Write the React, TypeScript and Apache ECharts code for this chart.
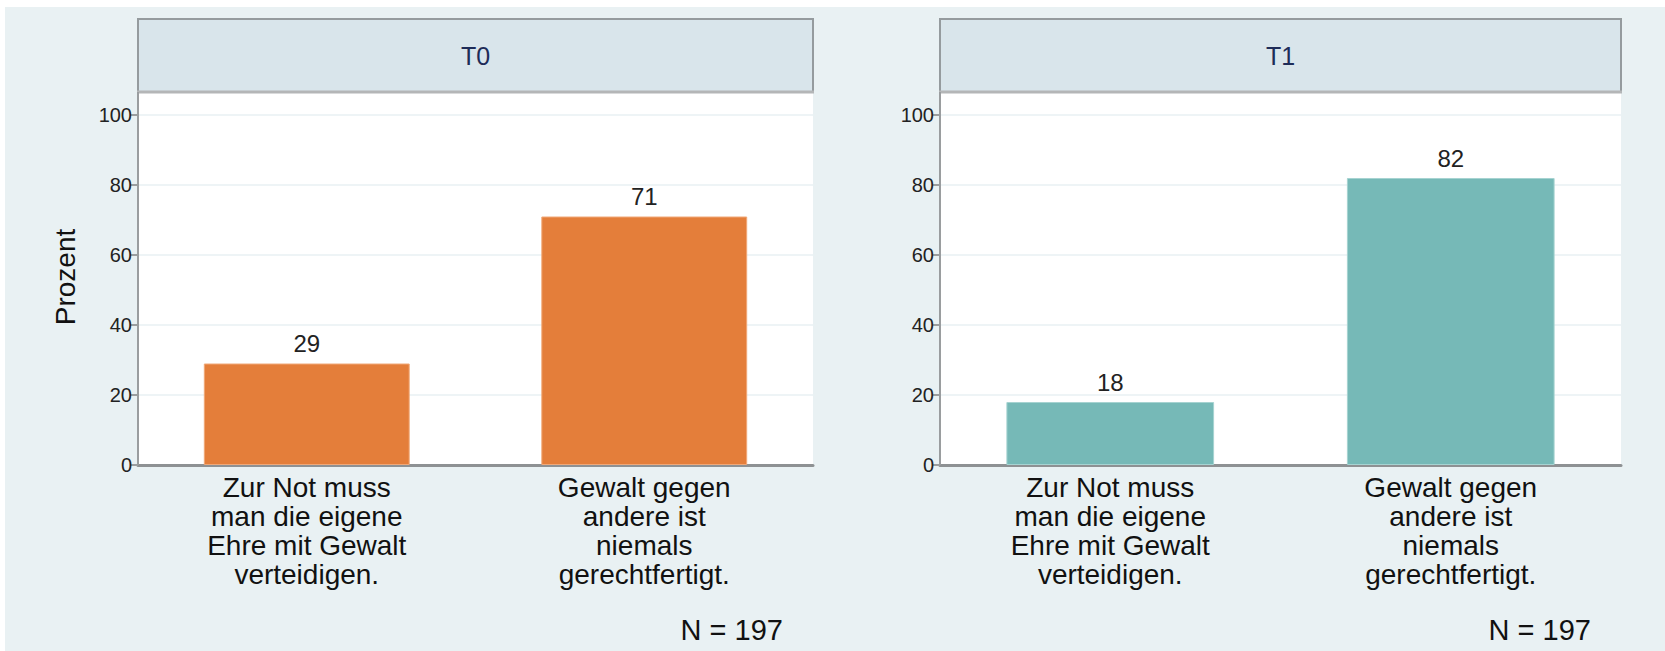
import React, { useEffect, useRef } from "react";
import * as echarts from "echarts";

const categories = [
  "Zur Not muss\nman die eigene\nEhre mit Gewalt\nverteidigen.",
  "Gewalt gegen\nandere ist\nniemals\ngerechtfertigt.",
];
const panelTitles = ["T0", "T1"];
const valuesT0 = [29, 71];
const valuesT1 = [18, 82];
const yAxisTitle = "Prozent";
const yMin = 0;
const yMax = 100;
const yStep = 20;
const nNotes = ["N = 197", "N = 197"];
const barColors = ["#e47e3a", "#76b9b7"];

const W = 1665;
const H = 651;
const PLOT_TOP = 115;
const PLOT_H = 350;
const HEAD_TOP = 19;
const HEAD_BOTTOM = 92;
const panels = [
  { left: 138, width: 675 },
  { left: 940, width: 681 },
];

export default function App() {
  const ref = useRef<HTMLDivElement>(null);
  useEffect(() => {
    document.body.style.margin = "0";
    if (!ref.current) return;
    const chart = echarts.init(ref.current, null, { renderer: "svg" });
    const seriesData = [valuesT0, valuesT1];
    const font = "'Liberation Sans', Arial, Helvetica, sans-serif";
    const bottom = PLOT_TOP + PLOT_H;

    const graphic: any[] = [
      {
        type: "rect",
        z: -20,
        shape: { x: 5, y: 7, width: W - 5, height: H - 7 },
        style: { fill: "#e9f1f3" },
        silent: true,
      },
    ];
    panels.forEach((p, i) => {
      graphic.push(
        {
          type: "rect",
          z: -10,
          shape: { x: p.left, y: HEAD_BOTTOM, width: p.width, height: bottom - HEAD_BOTTOM },
          style: { fill: "#ffffff" },
          silent: true,
        },
        {
          type: "rect",
          z: 5,
          shape: { x: p.left, y: HEAD_TOP, width: p.width, height: HEAD_BOTTOM - HEAD_TOP },
          style: { fill: "#d9e5eb", stroke: "#959b9e", lineWidth: 2 },
          silent: true,
        },
        {
          type: "line",
          z: 6,
          shape: { x1: p.left - 1, y1: HEAD_BOTTOM, x2: p.left + p.width + 1, y2: HEAD_BOTTOM },
          style: { stroke: "#b4b6b7", lineWidth: 3 },
          silent: true,
        },
        {
          type: "line",
          z: 6,
          shape: { x1: p.left, y1: HEAD_BOTTOM, x2: p.left, y2: bottom },
          style: { stroke: "#9a9d9f", lineWidth: 2 },
          silent: true,
        },
        {
          type: "text",
          z: 10,
          x: p.left + p.width / 2,
          y: (HEAD_TOP + HEAD_BOTTOM) / 2,
          style: {
            text: panelTitles[i],
            fill: "#1e2c58",
            font: `25px ${font}`,
            textAlign: "center",
            textVerticalAlign: "middle",
          },
        },
        {
          type: "text",
          z: 10,
          x: p.left + p.width - 30,
          y: 630,
          style: {
            text: nNotes[i],
            fill: "#111111",
            font: `29px ${font}`,
            textAlign: "right",
            textVerticalAlign: "middle",
          },
        }
      );
    });
    graphic.push({
      type: "text",
      z: 10,
      x: 65,
      y: 277,
      rotation: Math.PI / 2,
      style: {
        text: yAxisTitle,
        fill: "#111111",
        font: `28px ${font}`,
        textAlign: "center",
        textVerticalAlign: "middle",
      },
    });

    chart.setOption({
      animation: false,
      backgroundColor: "#ffffff",
      graphic,
      grid: panels.map((p) => ({
        left: p.left,
        width: p.width,
        top: PLOT_TOP,
        height: PLOT_H,
        containLabel: false,
      })),
      xAxis: panels.map((_, i) => ({
        type: "category",
        gridIndex: i,
        data: categories,
        axisTick: { show: false },
        axisLine: { show: true, lineStyle: { color: "#8e9193", width: 3 } },
        axisLabel: {
          color: "#111111",
          fontFamily: font,
          fontSize: 28,
          lineHeight: 29,
          margin: 8,
          interval: 0,
          align: "center",
        },
      })),
      yAxis: panels.map((_, i) => ({
        type: "value",
        gridIndex: i,
        min: yMin,
        max: yMax,
        interval: yStep,
        axisLine: { show: true, lineStyle: { color: "#9a9d9f", width: 2 } },
        axisTick: { show: true, length: 8, lineStyle: { color: "#9a9d9f", width: 2 } },
        axisLabel: {
          color: "#222222",
          fontFamily: font,
          fontSize: 20,
          margin: 6,
        },
        splitLine: { show: true, lineStyle: { color: "#eef4f6", width: 2 } },
      })),
      series: seriesData.map((vals, i) => ({
        type: "bar",
        xAxisIndex: i,
        yAxisIndex: i,
        data: vals,
        barWidth: "61%",
        itemStyle: {
          color: barColors[i],
          borderColor: i === 0 ? "#f0a878" : "#a6d3d1",
          borderWidth: 1,
        },
        label: {
          show: true,
          position: "top",
          distance: 8,
          color: "#222222",
          fontFamily: font,
          fontSize: 24,
        },
      })),
    });
    return () => chart.dispose();
  }, []);
  return <div ref={ref} style={{ width: W, height: H }} />;
}
